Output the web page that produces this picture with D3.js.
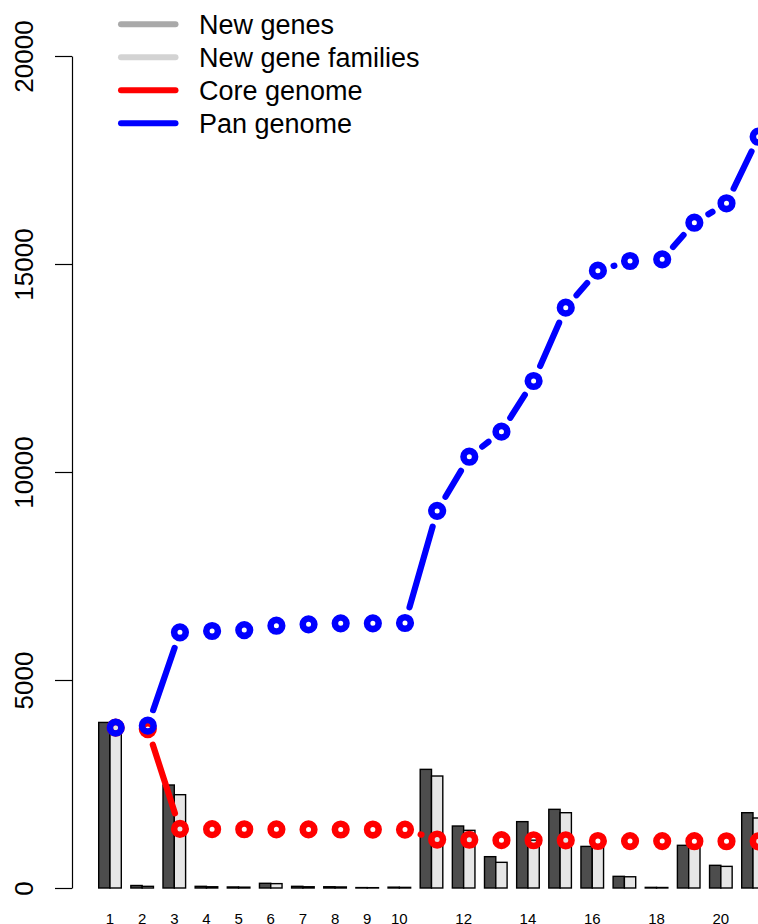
<!DOCTYPE html>
<html>
<head>
<meta charset="utf-8">
<script src="https://cdn.jsdelivr.net/npm/d3@7"></script>
<style>
  html, body { margin: 0; padding: 0; background: #fff; }
  svg { display: block; font-family: "Liberation Sans", Arial, Helvetica, sans-serif; }
</style>
</head>
<body>
<svg id="chart" width="758" height="924"></svg>
<script>
// ---- data ----
const categories = [1,2,3,4,5,6,7,8,9,10,11,12,13,14,15,16,17,18,19,20,21];
const shownLabels = ["1","2","3","4","5","6","7","8","9","10","12","14","16","18","20"];
const newGenes =       [3980, 60, 2476, 40, 25, 113, 40, 30, 10, 20, 2852, 1490, 753, 1595, 1891, 1000, 280, 15, 1026, 545, 1810];
const newGeneFamilies = [3960, 40, 2243, 30, 20, 105, 30, 25, 8, 15, 2692, 1386, 617, 1150, 1810, 980, 270, 12, 1000, 520, 1683];
const coreGenome = [3854, 3820, 1420, 1415, 1412, 1410, 1408, 1406, 1405, 1404, 1165, 1160, 1150, 1148, 1145, 1130, 1128, 1127, 1125, 1124, 1122];
const panGenome  = [3854, 3902, 6146, 6178, 6200, 6305, 6338, 6362, 6362, 6370, 9065, 10368, 10969, 12187, 13950, 14840, 15072, 15112, 15993, 16459, 18060];
const yTicks = [0, 5000, 10000, 15000, 20000];
const legendItems = [
  { label: "New genes", color: "#a9a9a9" },
  { label: "New gene families", color: "#d3d3d3" },
  { label: "Core genome", color: "#ff0000" },
  { label: "Pan genome", color: "#0000ff" }
];

// ---- drawing ----
const svg = d3.select("#chart");
const y = d3.scaleLinear().domain([0, 20000]).range([888, 56]);
const x = d3.scaleLinear().domain([1, 21]).range([110, 753]);
const step = x(2) - x(1);
const bw = step * 0.3515;

// bars
const bars = svg.append("g");
categories.forEach((c, i) => {
  bars.append("rect")
    .attr("x", x(c) - bw).attr("y", y(newGenes[i]))
    .attr("width", bw).attr("height", y(0) - y(newGenes[i]))
    .attr("fill", "#4d4d4d").attr("stroke", "#000").attr("stroke-width", 1.4);
  bars.append("rect")
    .attr("x", x(c)).attr("y", y(newGeneFamilies[i]))
    .attr("width", bw).attr("height", y(0) - y(newGeneFamilies[i]))
    .attr("fill", "#e6e6e6").attr("stroke", "#000").attr("stroke-width", 1.4);
});

// lines with gaps (type "b")
const gap = 16.4;
function drawSeries(vals, color) {
  const g = svg.append("g");
  const pts = categories.map((c, i) => [x(c) + bw / 2, y(vals[i])]);
  for (let i = 0; i < pts.length - 1; i++) {
    const [x1, y1] = pts[i], [x2, y2] = pts[i + 1];
    const dx = x2 - x1, dy = y2 - y1, d = Math.hypot(dx, dy);
    if (d > 2 * gap) {
      const ux = dx / d, uy = dy / d;
      g.append("line")
        .attr("x1", x1 + ux * gap).attr("y1", y1 + uy * gap)
        .attr("x2", x2 - ux * gap).attr("y2", y2 - uy * gap)
        .attr("stroke", color).attr("stroke-width", 6.2).attr("stroke-linecap", "round");
    }
  }
  g.selectAll("circle").data(pts).join("circle")
    .attr("cx", d => d[0]).attr("cy", d => d[1]).attr("r", 5.8)
    .attr("fill", "none").attr("stroke", color).attr("stroke-width", 6.6);
}
drawSeries(coreGenome, "#ff0000");
drawSeries(panGenome, "#0000ff");

// y axis
const yAxis = svg.append("g").attr("transform", "translate(72,0)")
  .call(d3.axisLeft(y).tickValues(yTicks).tickSize(17).tickSizeOuter(0).tickFormat(d3.format("d")));
yAxis.select(".domain").attr("stroke", "#000").attr("stroke-width", 1.2);
yAxis.selectAll(".tick line").attr("stroke", "#000").attr("stroke-width", 1.2);
yAxis.selectAll(".tick text")
  .attr("transform", "rotate(-90)")
  .attr("x", 0).attr("y", -39).attr("dy", null)
  .attr("text-anchor", "middle")
  .attr("font-size", 26).attr("fill", "#000")
  .attr("font-family", "Liberation Sans, Arial, Helvetica, sans-serif");

// x labels
svg.append("g").selectAll("text").data(shownLabels).join("text")
  .attr("x", d => x(+d)).attr("y", 923.5)
  .attr("text-anchor", "middle").attr("font-size", 15).attr("fill", "#000")
  .text(d => d);

// legend
const lg = svg.append("g");
legendItems.forEach((it, i) => {
  const ly = 24.3 + i * 33;
  lg.append("line").attr("x1", 121).attr("x2", 175.5).attr("y1", ly).attr("y2", ly)
    .attr("stroke", it.color).attr("stroke-width", 6).attr("stroke-linecap", "round");
  lg.append("text").attr("x", 199).attr("y", ly + 9.6)
    .attr("font-size", 27).attr("fill", "#000").text(it.label);
});
</script>
</body>
</html>
